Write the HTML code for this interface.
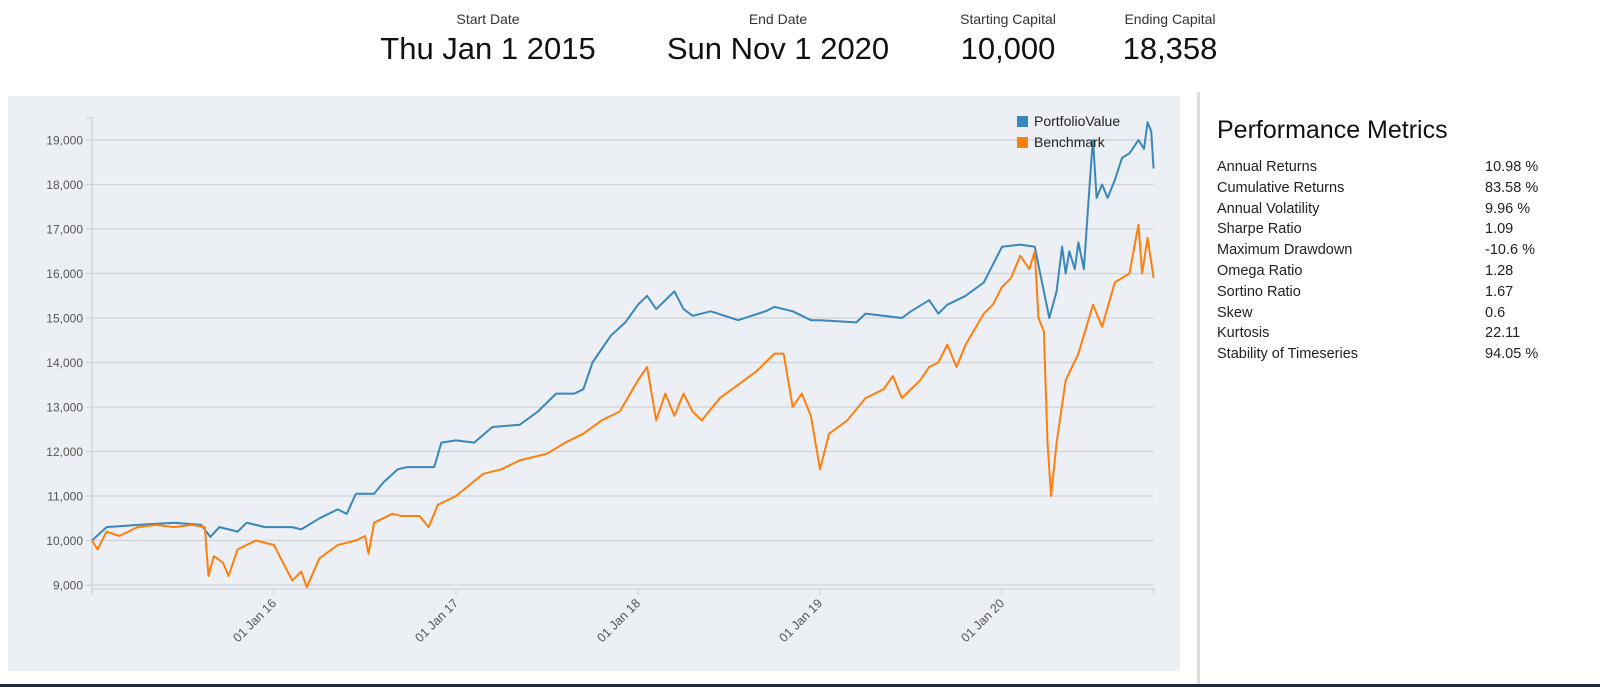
<!DOCTYPE html>
<html><head><meta charset="utf-8"><style>
body{margin:0;width:1600px;height:687px;overflow:hidden;background:#fff;font-family:"Liberation Sans",sans-serif;position:relative;color:#222}
.hd{position:absolute;text-align:center;transform:translateX(-50%)}
.hd .l{font-size:14px;color:#333;position:absolute;top:11px;left:50%;transform:translateX(-50%);white-space:nowrap}
.hd .v{font-size:31px;position:absolute;top:31px;left:50%;transform:translateX(-50%);white-space:nowrap;color:#111}
#panel{position:absolute;left:8px;top:96px;width:1172px;height:575px;background:#eceff4}
#div{position:absolute;left:1197px;top:92px;width:3px;height:593px;background:#ddd}
#bar{position:absolute;left:0;top:684px;width:1600px;height:3px;background:#1d2a3a}
#mt{position:absolute;left:1217px;top:116px;font-size:25px;color:#111}
.row{position:absolute;left:1217px;font-size:14.5px;color:#222}
.val{position:absolute;left:1485px;font-size:14.5px;color:#222}
</style></head><body>
<div class="hd" style="left:488px"><div class="l">Start Date</div><div class="v">Thu Jan 1 2015</div></div>
<div class="hd" style="left:778px"><div class="l">End Date</div><div class="v">Sun Nov 1 2020</div></div>
<div class="hd" style="left:1008px"><div class="l">Starting Capital</div><div class="v">10,000</div></div>
<div class="hd" style="left:1170px"><div class="l">Ending Capital</div><div class="v">18,358</div></div>
<div id="panel"></div>
<svg id="chart" width="1600" height="687" style="position:absolute;left:0;top:0"></svg>
<div id="div"></div>
<div id="bar"></div>
<div id="mt">Performance Metrics</div>
<div id="metrics"></div>
<script>
const metricLabels=["Annual Returns","Cumulative Returns","Annual Volatility","Sharpe Ratio","Maximum Drawdown","Omega Ratio","Sortino Ratio","Skew","Kurtosis","Stability of Timeseries"];
const metricValues=["10.98 %","83.58 %","9.96 %","1.09","-10.6 %","1.28","1.67","0.6","22.11","94.05 %"];
const yTicks=[9000,10000,11000,12000,13000,14000,15000,16000,17000,18000,19000];
const xTickYears=[2016,2017,2018,2019,2020];
const xTickLabels=["01 Jan 16","01 Jan 17","01 Jan 18","01 Jan 19","01 Jan 20"];
const pDates=[2015.0,2015.08,2015.25,2015.45,2015.6,2015.65,2015.7,2015.8,2015.85,2015.95,2016.0,2016.1,2016.15,2016.25,2016.35,2016.4,2016.45,2016.55,2016.6,2016.68,2016.73,2016.88,2016.92,2017.0,2017.1,2017.2,2017.35,2017.45,2017.55,2017.65,2017.7,2017.75,2017.85,2017.93,2018.0,2018.05,2018.1,2018.2,2018.25,2018.3,2018.4,2018.55,2018.7,2018.75,2018.85,2018.95,2019.0,2019.2,2019.25,2019.45,2019.5,2019.6,2019.65,2019.7,2019.8,2019.9,2020.0,2020.1,2020.18,2020.22,2020.26,2020.3,2020.33,2020.35,2020.37,2020.4,2020.42,2020.45,2020.47,2020.49,2020.5,2020.52,2020.55,2020.58,2020.62,2020.66,2020.7,2020.75,2020.78,2020.8,2020.82,2020.833];
const portfolio=[10000,10300,10350,10400,10350,10080,10300,10200,10400,10300,10300,10300,10250,10500,10700,10600,11050,11050,11300,11600,11650,11650,12200,12250,12200,12550,12600,12900,13300,13300,13400,14000,14600,14900,15300,15500,15200,15600,15200,15050,15150,14950,15150,15250,15150,14950,14950,14900,15100,15000,15150,15400,15100,15300,15500,15800,16600,16650,16600,15800,15000,15600,16600,16000,16500,16100,16700,16100,17300,18500,19000,17700,18000,17700,18100,18600,18700,19000,18800,19400,19200,18358];
const bDates=[2015.0,2015.03,2015.08,2015.15,2015.25,2015.35,2015.45,2015.55,2015.62,2015.64,2015.67,2015.72,2015.75,2015.8,2015.9,2016.0,2016.05,2016.1,2016.15,2016.18,2016.25,2016.35,2016.45,2016.5,2016.52,2016.55,2016.65,2016.7,2016.8,2016.85,2016.9,2017.0,2017.15,2017.25,2017.35,2017.5,2017.6,2017.7,2017.8,2017.9,2018.0,2018.05,2018.1,2018.15,2018.2,2018.25,2018.3,2018.35,2018.45,2018.55,2018.65,2018.75,2018.8,2018.85,2018.9,2018.95,2019.0,2019.05,2019.15,2019.25,2019.35,2019.4,2019.45,2019.55,2019.6,2019.65,2019.7,2019.75,2019.8,2019.9,2019.95,2020.0,2020.05,2020.1,2020.15,2020.18,2020.2,2020.23,2020.25,2020.27,2020.3,2020.35,2020.42,2020.5,2020.55,2020.62,2020.7,2020.75,2020.77,2020.8,2020.833];
const benchmark=[10000,9800,10200,10100,10300,10350,10300,10350,10300,9200,9650,9500,9200,9800,10000,9900,9500,9100,9300,8950,9600,9900,10000,10100,9700,10400,10600,10550,10550,10300,10800,11000,11500,11600,11800,11950,12200,12400,12700,12900,13600,13900,12700,13300,12800,13300,12900,12700,13200,13500,13800,14200,14200,13000,13300,12800,11600,12400,12700,13200,13400,13700,13200,13600,13900,14000,14400,13900,14400,15100,15300,15700,15900,16400,16100,16500,15000,14700,12200,11000,12200,13600,14200,15300,14800,15800,16000,17100,16000,16800,15900];
const NS="http://www.w3.org/2000/svg";
const svg=document.getElementById('chart');
const X0=92,XPY=182,Y0=585,YPU=0.0445;
function xs(d){return X0+(d-2015)*XPY;}
function ys(v){return Y0-(v-9000)*YPU;}
function mk(t,a){const e=document.createElementNS(NS,t);for(const k in a)e.setAttribute(k,a[k]);svg.appendChild(e);return e;}
const xEnd=xs(2020.833);
yTicks.forEach(v=>{
 const g=mk('line',{x1:X0-6,x2:xEnd,y1:ys(v),y2:ys(v),stroke:'#cfd2d6','stroke-width':1.3});
 
 
 const t=mk('text',{x:X0-9,y:ys(v)+4.5,'text-anchor':'end','font-size':12,fill:'#555','font-family':'Liberation Sans,sans-serif'});
 t.textContent=v.toLocaleString('en-US');
 
 
});
const ya=mk('path',{d:`M${X0-6},118H${X0}V595`,fill:'none',stroke:'#cfd2d6','stroke-width':1.3});


const xa=mk('path',{d:`M${X0},595V589H${xEnd}V595`,fill:'none',stroke:'#cfd2d6','stroke-width':1.3});


xTickYears.forEach((yr,i)=>{
 const x=xs(yr);
 const tk=mk('line',{x1:x,x2:x,y1:589,y2:595,stroke:'#cfd2d6','stroke-width':1.3});
 
 
 const t=mk('text',{x:x+3,y:604,'text-anchor':'end','font-size':12.5,fill:'#555','font-family':'Liberation Sans,sans-serif',transform:`rotate(-45 ${x+3} 604)`});
 t.textContent=xTickLabels[i];
 
 
});
function line(ds,vs,c,n){
 const d=ds.map((t,i)=>(i?'L':'M')+xs(t).toFixed(1)+','+ys(vs[i]).toFixed(1)).join('');
 const p=mk('path',{d:d,fill:'none',stroke:c,'stroke-width':2,'stroke-linejoin':'round'});
 
 
}
line(pDates,portfolio,'#3a87bb','portfolio-line');
line(bDates,benchmark,'#ff7f0e','benchmark-line');
[['PortfolioValue','#3a87bb'],['Benchmark','#ff7f0e']].forEach((l,i)=>{
 const r=mk('rect',{x:1017,y:116+i*21,width:11,height:11,fill:l[1]});
 
 
 const t=mk('text',{x:1034,y:126+i*21,'font-size':14,fill:'#222','font-family':'Liberation Sans,sans-serif'});
 t.textContent=l[0];
 
 
});
const m=document.getElementById('metrics');
metricLabels.forEach((lab,i)=>{
 const a=document.createElement('div');a.className='row';a.style.top=(159+i*20.8)+'px';a.textContent=lab;
 
 
 m.appendChild(a);
 const b=document.createElement('div');b.className='val';b.style.top=(159+i*20.8)+'px';b.textContent=metricValues[i];
 
 
 m.appendChild(b);
});
</script>
</body></html>
